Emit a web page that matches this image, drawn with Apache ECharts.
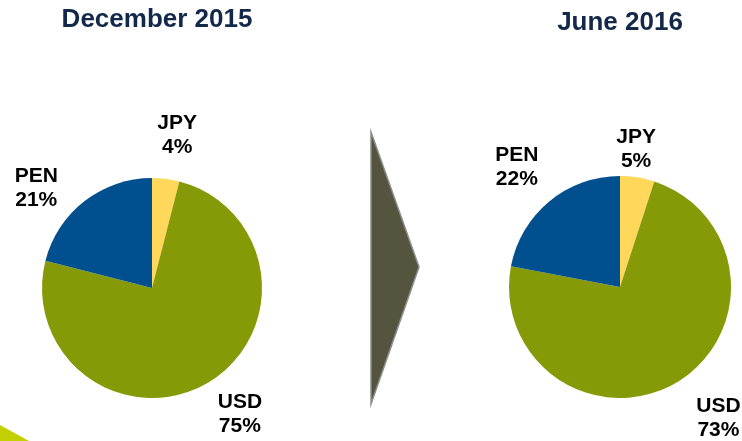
<!DOCTYPE html>
<html>
<head>
<meta charset="utf-8">
<title>Currency composition</title>
<script src="https://cdn.jsdelivr.net/npm/echarts@6/dist/echarts.min.js"></script>
<style>
  html, body { margin: 0; padding: 0; background: #fff; }
  #chart { width: 742px; height: 441px; }
</style>
</head>
<body>
<div id="chart"></div>
<script>
// currency split, clockwise from 12 o'clock
const currencies = ['JPY', 'USD', 'PEN']
const dec2015 = [4, 75, 21]
const jun2016 = [5, 73, 22]
const periods = ['December 2015', 'June 2016']

const colors = ['#FFD75A', '#869A08', '#00508F']

// small label nudges so the labels sit where the original put them
const nudgeLeft = [[6, -1], [10, -5], [-22, 21]]
const nudgeRight = [[-8, 14], [20, -1], [-5, -1]]

const chart = echarts.init(document.getElementById('chart'))

const toData = (values) =>
  currencies.map((name, i) => ({
    name,
    value: values[i],
    itemStyle: { color: colors[i] }
  }))

const makePie = (values, center, radius, nudge) => ({
  type: 'pie',
  center,
  radius,
  startAngle: 90,
  clockwise: true,
  avoidLabelOverlap: false,
  silent: true,
  itemStyle: { borderWidth: 0 },
  label: {
    show: true,
    position: 'outside',
    formatter: '{b}\n{c}%',
    fontFamily: 'Liberation Sans, Arial, sans-serif',
    fontWeight: 'bold',
    fontSize: 21,
    lineHeight: 24,
    color: '#000',
    distanceToLabelLine: 0
  },
  labelLine: { show: false, length: 43, length2: 0 },
  labelLayout: (p) => ({
    align: 'center',
    dx: nudge[p.dataIndex][0],
    dy: nudge[p.dataIndex][1]
  }),
  data: toData(values)
})

const titleStyle = {
  fontFamily: 'Liberation Sans, Arial, sans-serif',
  fontWeight: 'bold',
  fontSize: 26,
  color: '#14284A'
}

chart.setOption({
  animation: false,
  title: [
    { text: periods[0], left: 157, top: 7, textAlign: 'center', padding: 0, textStyle: titleStyle },
    { text: periods[1], left: 620, top: 10, textAlign: 'center', padding: 0, textStyle: titleStyle }
  ],
  graphic: [
    {
      type: 'polygon',
      shape: { points: [[371, 132], [419, 267], [371, 404]] },
      style: { fill: '#55543F', stroke: '#8C8C8C', lineWidth: 1.5 }
    },
    {
      type: 'polygon',
      shape: { points: [[0, 425], [29, 441], [0, 441]] },
      style: { fill: '#C3D000' }
    }
  ],
  series: [
    makePie(dec2015, [152, 288], 110, nudgeLeft),
    makePie(jun2016, [620, 287], 111, nudgeRight)
  ]
})
</script>
</body>
</html>
